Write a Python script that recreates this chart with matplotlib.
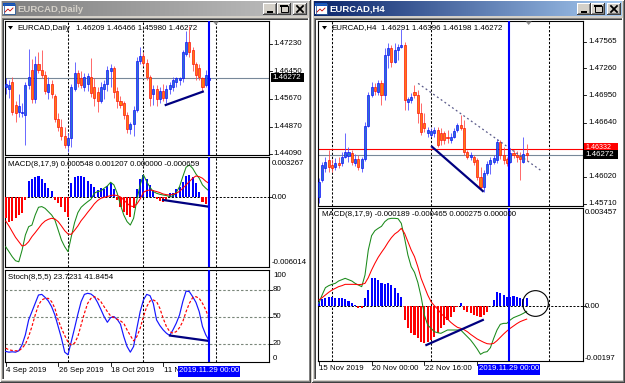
import numpy as np
import matplotlib
matplotlib.use("Agg")
import matplotlib.pyplot as plt
from matplotlib.patches import Rectangle, Polygon
from matplotlib.colors import LinearSegmentedColormap

plt.rcParams['font.family'] = ['Liberation Sans', 'DejaVu Sans']

# ======================= DATA =======================
# ---- EURCAD Daily (left window), bar index 0 = 4 Sep 2019 ----
l_open = [1.4600, 1.4595, 1.4615, 1.4550, 1.4530, 1.4525, 1.4520, 1.4605, 1.4650, 1.4565,
          1.4665, 1.4650, 1.4635, 1.4585, 1.4610, 1.4575, 1.4510, 1.4485, 1.4460, 1.4435,
          1.4455, 1.4595, 1.4640, 1.4625, 1.4600, 1.4610, 1.4630, 1.4600, 1.4585, 1.4560,
          1.4595, 1.4610, 1.4645, 1.4655, 1.4590, 1.4560, 1.4555, 1.4520, 1.4480, 1.4495,
          1.4535, 1.4675, 1.4690, 1.4670, 1.4630, 1.4580, 1.4595, 1.4565, 1.4590, 1.4570,
          1.4595, 1.4600, 1.4615, 1.4620, 1.4625, 1.4695, 1.4730, 1.4705, 1.4665, 1.4655,
          1.4625, 1.4605, 1.46209]
l_high = [1.4625, 1.4620, 1.4630, 1.4560, 1.4580, 1.4555, 1.4615, 1.4710, 1.4680, 1.4690,
          1.4700, 1.4705, 1.4645, 1.4630, 1.4620, 1.4580, 1.4525, 1.4510, 1.4485, 1.4470,
          1.4610, 1.4672, 1.4650, 1.4645, 1.4640, 1.4640, 1.4682, 1.4625, 1.4600, 1.4615,
          1.4620, 1.4660, 1.4665, 1.4660, 1.4600, 1.4575, 1.4560, 1.4530, 1.4500, 1.4545,
          1.4685, 1.4715, 1.4700, 1.4680, 1.4635, 1.4605, 1.4605, 1.4600, 1.4610, 1.4605,
          1.4615, 1.4630, 1.4630, 1.4628, 1.4705, 1.4760, 1.4775, 1.4715, 1.4672, 1.4665,
          1.4628, 1.4650, 1.46466]
l_low = [1.4580, 1.4570, 1.4520, 1.4500, 1.4515, 1.4515, 1.4435, 1.4595, 1.4555, 1.4555,
         1.4640, 1.4625, 1.4580, 1.4565, 1.4570, 1.4500, 1.4475, 1.4450, 1.4425, 1.4415,
         1.4430, 1.4590, 1.4600, 1.4598, 1.4590, 1.4590, 1.4572, 1.4545, 1.4530, 1.4555,
         1.4565, 1.4590, 1.4600, 1.4570, 1.4540, 1.4540, 1.4510, 1.4470, 1.4465, 1.4460,
         1.4530, 1.4665, 1.4660, 1.4620, 1.4545, 1.4550, 1.4545, 1.4555, 1.4560, 1.4555,
         1.4580, 1.4590, 1.4600, 1.4605, 1.4615, 1.4690, 1.4685, 1.4645, 1.4620, 1.4620,
         1.4585, 1.4600, 1.45980]
l_close = [1.4610, 1.4605, 1.4530, 1.4525, 1.4545, 1.4530, 1.4605, 1.4630, 1.4565, 1.4665,
           1.4650, 1.4635, 1.4590, 1.4610, 1.4580, 1.4510, 1.4485, 1.4460, 1.4435, 1.4455,
           1.4600, 1.4640, 1.4612, 1.4605, 1.4630, 1.4632, 1.4582, 1.4570, 1.4560, 1.4600,
           1.4610, 1.4650, 1.4655, 1.4585, 1.4560, 1.4550, 1.4520, 1.4480, 1.4495, 1.4535,
           1.4675, 1.4690, 1.4670, 1.4630, 1.4570, 1.4595, 1.4565, 1.4590, 1.4570, 1.4595,
           1.4605, 1.4620, 1.4625, 1.4625, 1.4700, 1.4730, 1.4700, 1.4665, 1.4635, 1.4630,
           1.4600, 1.4635, 1.46272]

l_macd_hist = [-0.00183, -0.00212, -0.00204, -0.00183, -0.00154, -0.00140, -0.00023, 0.00146, 0.00157, 0.00180,
               0.00186, 0.00157, 0.00122, 0.00079, 0.00058, -0.00023, -0.00052, -0.00081, -0.00125, -0.00169,
               0.00128, 0.00175, 0.00186, 0.00186, 0.00175, 0.00146, 0.00116, 0.00093, 0.00064, 0.00079,
               0.00070, 0.00099, 0.00122, 0.00070, -0.00023, -0.00081, -0.00125, -0.00154, -0.00169, -0.00096,
               0.00070, 0.00157, 0.00195, 0.00157, 0.00108, 0.00064, -0.00017, -0.00029, -0.00038, -0.00023,
               0.00035, 0.00041, 0.00070, 0.00093, 0.00137, 0.00186, 0.00195, 0.00180, 0.00122, 0.00050,
               -0.00038, -0.00058, -0.00066]
l_macd_green = [-0.00431, -0.00474, -0.00518, -0.00553, -0.00562, -0.00460, -0.00329, -0.00256, -0.00242, -0.00154,
                -0.00087, -0.00081, -0.00096, -0.00125, -0.00154, -0.00198, -0.00285, -0.00373, -0.00431, -0.00474,
                -0.00343, -0.00221, -0.00134, -0.00087, -0.00061, -0.00038, -0.00017, 0.00035, 0.00050, 0.00055,
                0.00079, 0.00099, 0.00131, 0.00108, 0.00035, -0.00067, -0.00154, -0.00212, -0.00242, -0.00183,
                -0.00023, 0.00108, 0.00195, 0.00137, 0.00087, 0.00050, 0.00035, 0.00026, 0.00020, 0.00015,
                0.00006, 0.00012, 0.00041, 0.00093, 0.00180, 0.00262, 0.00282, 0.00253, 0.00204, 0.00166,
                0.00108, 0.00079, 0.00055]
l_macd_red = [-0.00207, -0.00250, -0.00300, -0.00349, -0.00387, -0.00425, -0.00416, -0.00387, -0.00343, -0.00308,
              -0.00271, -0.00233, -0.00207, -0.00192, -0.00183, -0.00189, -0.00212, -0.00250, -0.00291, -0.00320,
              -0.00323, -0.00288, -0.00250, -0.00204, -0.00169, -0.00131, -0.00096, -0.00058, -0.00029, -0.00009,
              0.00000, 0.00006, 0.00015, 0.00020, 0.00015, 0.00003, -0.00023, -0.00052, -0.00076, -0.00081,
              -0.00058, -0.00015, 0.00044, 0.00058, 0.00064, 0.00058, 0.00050, 0.00041, 0.00029, 0.00023,
              0.00020, 0.00026, 0.00035, 0.00052, 0.00079, 0.00108, 0.00137, 0.00166, 0.00186, 0.00180,
              0.00166, 0.00140, 0.00121]
l_stoch_main = [11.6, 10.8, 11.2, 10.8, 12.3, 18.9, 30.0, 46.5, 55.7, 64.9,
                74.1, 74.8, 71.5, 67.5, 61.2, 52.0, 39.2, 26.3, 10.8, 7.9,
                22.6, 37.3, 52.8, 66.8, 74.8, 76.0, 75.2, 72.3, 66.0, 58.3,
                50.2, 43.9, 49.1, 50.2, 47.2, 41.7, 28.1, 17.1, 10.8, 17.1,
                37.3, 55.7, 68.6, 74.8, 73.4, 64.9, 46.5, 40.3, 35.5, 31.8,
                29.2, 35.5, 42.8, 52.0, 66.8, 78.5, 77.8, 72.3, 66.0, 55.7,
                39.2, 30.0, 23.7]
l_stoch_sig = [15.2, 13.4, 12.7, 12.3, 12.3, 15.2, 19.6, 28.1, 39.2, 52.0,
               63.1, 68.6, 70.4, 70.4, 66.8, 59.4, 46.5, 37.3, 29.2, 21.9,
               18.9, 20.8, 28.1, 41.0, 53.9, 64.9, 70.4, 72.3, 70.4, 66.8,
               61.2, 55.7, 50.9, 49.1, 47.2, 45.4, 42.8, 35.5, 29.2, 23.3,
               28.1, 37.3, 50.2, 61.2, 67.5, 68.6, 66.8, 59.4, 48.4, 39.2,
               33.6, 31.8, 33.6, 38.0, 44.7, 55.7, 64.9, 71.2, 72.3, 70.4,
               64.9, 57.6, 48.0]
# the last date label is mostly hidden behind the highlighted cursor date
l_dates = ["4 Sep 2019", "26 Sep 2019", "18 Oct 2019", "11 N"]
l_date_idx = [0, 16, 32, 48]
l_sep = [19, 42]
l_blue = 61.9
l_future = 64.1
l_price_ticks = [1.47230, 1.46450, 1.45670, 1.44870, 1.44090]
l_bid = 1.46272
l_trend_price = ([48.8, 60.1], [1.45488, 1.45869])
l_trend_macd = ([48.0, 61.8], [-0.000233, -0.000815])
l_trend_stoch = ([50.1, 61.8], [29.2, 23.3])

# ---- EURCAD H4 (right window), bar index 0 = 15 Nov 2019 08:00 ----
r_open = [1.45791, 1.45982, 1.46115, 1.46211, 1.46154, 1.46127, 1.46180, 1.46173, 1.46249, 1.46257,
          1.46295, 1.46180, 1.46218, 1.46115, 1.46218, 1.46600, 1.46955, 1.47042, 1.46993, 1.47088,
          1.46955, 1.47413, 1.47489, 1.47336, 1.47470, 1.47508, 1.47527, 1.46878, 1.46897, 1.46993,
          1.46955, 1.46745, 1.46631, 1.46516, 1.46497, 1.46524, 1.46554, 1.46516, 1.46524, 1.46478,
          1.46440, 1.46470, 1.46554, 1.46611, 1.46573, 1.46306, 1.46249, 1.46249, 1.46211, 1.46020,
          1.45906, 1.46058, 1.46165, 1.46192, 1.46211, 1.46421, 1.46268, 1.46218, 1.46192, 1.46287,
          1.46268, 1.46257, 1.46192, 1.46291]
r_high = [1.46001, 1.46192, 1.46249, 1.46325, 1.46218, 1.46230, 1.46249, 1.46306, 1.46516, 1.46363,
          1.46325, 1.46279, 1.46268, 1.46249, 1.46650, 1.46993, 1.47107, 1.47096, 1.47126, 1.47126,
          1.47489, 1.47546, 1.47527, 1.47546, 1.47535, 1.47706, 1.47565, 1.46936, 1.46981, 1.47069,
          1.47012, 1.46859, 1.46745, 1.46592, 1.46573, 1.46585, 1.46585, 1.46573, 1.46547, 1.46554,
          1.46516, 1.46573, 1.46638, 1.46726, 1.46669, 1.46325, 1.46306, 1.46268, 1.46230, 1.46135,
          1.46096, 1.46203, 1.46241, 1.46268, 1.46447, 1.46440, 1.46363, 1.46249, 1.46344, 1.46325,
          1.46318, 1.46306, 1.46470, 1.46396]
r_low = [1.45715, 1.45963, 1.46077, 1.46077, 1.46077, 1.46096, 1.46115, 1.46142, 1.46230, 1.46192,
         1.46154, 1.46142, 1.46096, 1.46077, 1.46203, 1.46585, 1.46936, 1.46955, 1.46955, 1.46840,
         1.46897, 1.47260, 1.47279, 1.47317, 1.47355, 1.47489, 1.46783, 1.46783, 1.46859, 1.46917,
         1.46631, 1.46497, 1.46535, 1.46478, 1.46470, 1.46478, 1.46363, 1.46382, 1.46394, 1.46402,
         1.46409, 1.46459, 1.46535, 1.46554, 1.46268, 1.46218, 1.46211, 1.46154, 1.45982, 1.45868,
         1.45848, 1.46039, 1.46051, 1.46165, 1.46173, 1.46218, 1.46165, 1.46142, 1.46173, 1.46230,
         1.46192, 1.45982, 1.46173, 1.46198]
r_close = [1.45963, 1.46154, 1.46192, 1.46135, 1.46115, 1.46180, 1.46154, 1.46249, 1.46306, 1.46306,
           1.46192, 1.46218, 1.46135, 1.46218, 1.46600, 1.46955, 1.47042, 1.47004, 1.47088, 1.46955,
           1.47413, 1.47489, 1.47336, 1.47470, 1.47508, 1.47527, 1.46897, 1.46905, 1.46936, 1.46955,
           1.46745, 1.46535, 1.46573, 1.46554, 1.46547, 1.46554, 1.46382, 1.46440, 1.46440, 1.46459,
           1.46478, 1.46547, 1.46611, 1.46573, 1.46306, 1.46249, 1.46268, 1.46192, 1.46020, 1.45906,
           1.46058, 1.46165, 1.46211, 1.46230, 1.46421, 1.46268, 1.46211, 1.46180, 1.46287, 1.46268,
           1.46249, 1.46218, 1.46279, 1.46272]
r_macd_hist = [0.000154, 0.000236, 0.000296, 0.000331, 0.000331, 0.000296, 0.000296, 0.000272, 0.000248, 0.000177,
               0.000095, 0.000035, -0.000059, -0.000083, 0.000272, 0.000567, 0.000981, 0.000981, 0.000922, 0.000804,
               0.000768, 0.000804, 0.000745, 0.000626, 0.000449, 0.000331, -0.000496, -0.000792, -0.000969, -0.001028,
               -0.001147, -0.001265, -0.001324, -0.001265, -0.001206, -0.001087, -0.000969, -0.000792, -0.000674, -0.000496,
               -0.000378, -0.000201, -0.000024, 0.000095, -0.000142, -0.000201, -0.000260, -0.000319, -0.000343, -0.000378,
               -0.000319, -0.000201, 0.000012, 0.000213, 0.000485, 0.000449, 0.000390, 0.000331, 0.000331, 0.000366,
               0.000331, 0.000272, 0.000248, 0.000275]
r_macd_green = [0.000095, 0.000390, 0.000650, 0.000721, 0.000768, 0.000804, 0.000887, 0.000934, 0.000981, 0.000934,
                0.000887, 0.000804, 0.000745, 0.000686, 0.001099, 0.001986, 0.002494, 0.002671, 0.002754, 0.002825,
                0.002990, 0.003085, 0.003109, 0.003109, 0.003097, 0.002931, 0.002399, 0.001808, 0.001395, 0.001194,
                0.000839, 0.000331, -0.000319, -0.000674, -0.000792, -0.000910, -0.000946, -0.000969, -0.000910, -0.000851,
                -0.000851, -0.000851, -0.000851, -0.000851, -0.000969, -0.001087, -0.001206, -0.001359, -0.001525, -0.001714,
                -0.001643, -0.001619, -0.001478, -0.001147, -0.000851, -0.000650, -0.000615, -0.000615, -0.000496, -0.000414,
                -0.000366, -0.000319, -0.000260, -0.000189]
r_macd_red = [0.000213, 0.000296, 0.000390, 0.000485, 0.000567, 0.000626, 0.000686, 0.000721, 0.000768, 0.000768,
              0.000768, 0.000768, 0.000756, 0.000768, 0.000804, 0.001005, 0.001277, 0.001513, 0.001726, 0.001903,
              0.002069, 0.002258, 0.002423, 0.002553, 0.002636, 0.002754, 0.002577, 0.002281, 0.001986, 0.001749,
              0.001395, 0.000981, 0.000686, 0.000390, 0.000154, 0.000012, -0.000106, -0.000260, -0.000378, -0.000461,
              -0.000579, -0.000674, -0.000756, -0.000792, -0.000839, -0.000910, -0.001005, -0.001087, -0.001170, -0.001229,
              -0.001288, -0.001336, -0.001348, -0.001324, -0.001229, -0.001111, -0.000993, -0.000887, -0.000792, -0.000709,
              -0.000626, -0.000556, -0.000508, -0.000465]
# the fourth date label (k=48) is completely hidden behind the highlighted cursor date
r_dates = ["15 Nov 2019", "20 Nov 00:00", "22 Nov 16:00", ""]
r_date_idx = [0, 16, 32, 48]
r_sep = [4, 34]
r_blue = 57.6
r_future = 69.7
r_shift = 63.6
r_price_ticks = [1.47565, 1.47260, 1.46950, 1.46640, 1.46020, 1.45710]
r_bid = 1.46272
r_ask = 1.46332
r_trend_price = ([34.3, 49.7], [1.46363, 1.45856])
r_trend_dash = ([30.1, 67.4], [1.47088, 1.46089])
r_trend_macd = ([32.6, 49.7], [-0.001383, -0.000496])
r_circle = (65.6, 0.000118)

# ======================= FIGURE =======================
W, H = 625, 383
fig = plt.figure(figsize=(W / 100, H / 100), dpi=100)
fig.patch.set_facecolor('#D4D0C8')
bg = fig.add_axes([0, 0, 1, 1], zorder=0)
bg.set_xlim(0, W); bg.set_ylim(H, 0); bg.axis('off')
top = fig.add_axes([0, 0, 1, 1], zorder=10)
top.set_xlim(0, W); top.set_ylim(H, 0); top.axis('off')

FS = 5.7


def prect(ax, x, y, w, h, c, z=1):
    ax.add_patch(Rectangle((x, y), w, h, fc=c, ec='none', lw=0, zorder=z))


def button(x, y, kind):
    w, h = 14, 12
    prect(bg, x, y, w, h, '#404040', 3)
    prect(bg, x, y, w - 1, h - 1, '#FFFFFF', 3)
    prect(bg, x + 1, y + 1, w - 2, h - 2, '#808080', 3)
    prect(bg, x + 1, y + 1, w - 3, h - 3, '#D4D0C8', 3)
    if kind == 'min':
        prect(bg, x + 4, y + 8, 6, 2, 'black', 4)
    elif kind == 'max':
        bg.add_patch(Rectangle((x + 3.5, y + 2.5), 7, 6, fc='none', ec='black', lw=0.7, zorder=4))
        prect(bg, x + 3, y + 2, 8, 2, 'black', 4)
    else:
        bg.plot([x + 4, x + 10], [y + 3, y + 9], color='black', lw=1.3, zorder=4)
        bg.plot([x + 10, x + 4], [y + 3, y + 9], color='black', lw=1.3, zorder=4)


def window(x0, x1, title, active):
    prect(bg, x0, 0, x1 - x0, H, '#D4D0C8', 1)
    prect(bg, x0, 0, x1 - x0, 1, '#FFFFFF', 1)
    prect(bg, x0, 0, 1, H, '#FFFFFF', 1)
    prect(bg, x1 - 1, 0, 1, H, '#404040', 1)
    prect(bg, x1 - 2, 1, 1, H - 1, '#808080', 1)
    prect(bg, x0, H - 1, x1 - x0, 1, '#404040', 1)
    prect(bg, x0 + 1, H - 2, x1 - x0 - 2, 1, '#808080', 1)
    c0, c1 = ('#0A246A', '#A6CAF0') if active else ('#808080', '#C0C0C0')
    cmap = LinearSegmentedColormap.from_list('tb', [c0, c1])
    bg.imshow(np.linspace(0, 1, 256)[None, :], extent=(x0 + 2, x1 - 3, 16, 1),
              cmap=cmap, aspect='auto', interpolation='bilinear', zorder=2)
    # icon
    prect(bg, x0 + 3, 3, 12, 11, '#FFFFFF', 3)
    prect(bg, x0 + 3, 3, 12, 3, '#1050C0', 3)
    bg.add_patch(Rectangle((x0 + 3.5, 3.5), 11, 10, fc='none', ec='#3060A0', lw=0.6, zorder=3))
    bg.plot([x0 + 5, x0 + 8, x0 + 10, x0 + 13], [12, 9, 11, 8], color='#C00000', lw=0.6, zorder=4)
    tc = 'white' if active else '#D4D0C8'
    bg.text(x0 + 17, 9, title, color=tc, fontsize=6.8, fontweight='bold', va='center', ha='left', zorder=4,
            family=['Liberation Sans', 'DejaVu Sans'])
    re = x1 - 4
    button(re - 14, 3, 'close')
    button(re - 30, 3, 'max')
    button(re - 44, 3, 'min')
    # client area (sunken)
    cx0, cx1, cy0, cy1 = x0 + 2, x1 - 2, 18, H - 3
    prect(bg, cx0, cy0, cx1 - cx0, cy1 - cy0, '#FFFFFF', 1)
    prect(bg, cx0, cy0, cx1 - cx0, 1, '#808080', 2)
    prect(bg, cx0, cy0, 1, cy1 - cy0, '#808080', 2)
    prect(bg, cx0 + 1, cy0 + 1, cx1 - cx0 - 2, 1, '#404040', 2)
    prect(bg, cx0 + 1, cy0 + 1, 1, cy1 - cy0 - 2, '#404040', 2)
    prect(bg, cx1 - 1, cy0, 1, cy1 - cy0, '#FFFFFF', 2)
    prect(bg, cx0, cy1 - 1, cx1 - cx0, 1, '#FFFFFF', 2)


window(0, 311, "EURCAD,Daily", False)
window(312, 625, "EURCAD,H4", True)


def panel(x0, y0, x1, y1, xlim, ylim):
    ax = fig.add_axes([x0 / W, 1 - y1 / H, (x1 - x0) / W, (y1 - y0) / H], zorder=2)
    ax.set_xlim(*xlim); ax.set_ylim(*ylim)
    ax.set_facecolor('white')
    for s in ax.spines.values():
        s.set_color('black'); s.set_linewidth(0.8)
    ax.set_xticks([]); ax.set_yticks([])
    return ax


def to_px(ax, x, y):
    return top.transData.inverted().transform(ax.transData.transform((x, y)))


L_XLIM = (-0.21, 80.28)
R_XLIM = (-0.242, 80.06)
aL1 = panel(5, 21, 269, 155, L_XLIM, (1.44059, 1.47887))
aL2 = panel(5, 157, 269, 267, L_XLIM, (-0.006077, 0.003513))
aL3 = panel(5, 270, 269, 362, L_XLIM, (-0.1, 101.8))
aR1 = panel(318, 21, 583, 206, R_XLIM, (1.45685, 1.47802))
aR2 = panel(318, 208, 583, 361, R_XLIM, (-0.00195, 0.003475))

SEP = dict(color='black', lw=0.75, ls=(0, (2.2, 1.6)), zorder=1)


def candles(ax, o, h, l, c):
    o, h, l, c = map(np.asarray, (o, h, l, c))
    x = np.arange(len(o))
    up = c >= o
    wick = np.where(up, '#5050FF', '#FF5050')
    ax.vlines(x, l, h, colors=list(wick), lw=0.6, zorder=3)
    body_fc = np.where(up, '#2A70D0', '#FF7A10')
    body_ec = np.where(up, '#0000FF', '#FF0000')
    ax.bar(x, c - o, bottom=o, width=0.62, color=list(body_fc), edgecolor=list(body_ec), linewidth=0.45, zorder=4)


def macd(ax, hist, green, red):
    hist = np.asarray(hist)
    x = np.arange(len(hist))
    cols = np.where(hist >= 0, '#0000FF', '#FF0000')
    ax.bar(x, hist, width=0.62, color=list(cols), lw=0, zorder=3)
    ax.plot(x, green, color='#1A8A1A', lw=0.75, zorder=4)
    ax.plot(x, red, color='#FF0000', lw=0.75, zorder=4)
    ax.axhline(0, color='black', lw=0.7, ls=(0, (2.2, 1.6)), zorder=2)


# ---------------- left window ----------------
candles(aL1, l_open, l_high, l_low, l_close)
aL1.axhline(l_bid, color='#778899', lw=0.8, zorder=2)
aL1.plot(*l_trend_price, color='#000080', lw=1.6, zorder=5)
macd(aL2, l_macd_hist, l_macd_green, l_macd_red)
aL2.plot(*l_trend_macd, color='#000080', lw=1.6, zorder=5)
xs = np.arange(len(l_stoch_main))
for lv in (20, 50, 80):
    aL3.axhline(lv, color='#7A867A', lw=0.8, ls=(0, (2.2, 1.8)), zorder=2)
aL3.plot(xs, l_stoch_main, color='#1515FF', lw=0.85, zorder=4)
aL3.plot(xs, l_stoch_sig, color='#FF0000', lw=0.85, ls=(0, (2.4, 1.6)), zorder=4)
aL3.plot(*l_trend_stoch, color='#000080', lw=1.6, zorder=5)
for a in (aL1, aL2, aL3):
    for s in l_sep:
        a.axvline(s, **SEP)
    a.axvline(l_future, **SEP)
    a.axvline(l_blue, color='#0000FF', lw=1.5, zorder=6)

# ---------------- right window ----------------
candles(aR1, r_open, r_high, r_low, r_close)
aR1.axhline(r_bid, color='#778899', lw=0.8, zorder=2)
aR1.axhline(r_ask, color='#FF0000', lw=0.8, zorder=2)
aR1.plot(*r_trend_price, color='#000080', lw=1.6, zorder=5)
aR1.plot(*r_trend_dash, color='#5A5A8A', lw=0.9, ls=(0, (1.5, 2.2)), zorder=5)
macd(aR2, r_macd_hist, r_macd_green, r_macd_red)
aR2.plot(*r_trend_macd, color='#000080', lw=1.6, zorder=5)
aR2.plot(*r_circle, marker='o', ms=18.5, mfc='none', mec='black', mew=0.8, zorder=7, clip_on=False)
for a in (aR1, aR2):
    for s in r_sep:
        a.axvline(s, **SEP)
    a.axvline(r_future, **SEP)
    a.axvline(r_blue, color='#0000FF', lw=1.5, zorder=6)


# ---------------- scale labels ----------------
def scale_label(ax, val, s, xpx, va='center', tick=True):
    x1 = to_px(ax, ax.get_xlim()[1], val)
    y = x1[1]
    if tick:
        top.plot([x1[0], x1[0] + 3], [y, y], color='black', lw=0.6)
    top.text(xpx, y, s, fontsize=FS, va=va, ha='left', color='black')


for v in l_price_ticks:
    scale_label(aL1, v, f"{v:.5f}", 273)
scale_label(aL2, 0.003267, "0.003267", 272, va='top', tick=False)
scale_label(aL2, 0.0, "0.00", 272)
scale_label(aL2, -0.006014, "-0.006014", 272, va='bottom', tick=False)
for v in (100, 80, 50, 20, 0):
    scale_label(aL3, v, str(v), 273, va='top' if v == 100 else ('bottom' if v == 0 else 'center'),
                tick=v not in (100, 0))
for v in r_price_ticks:
    scale_label(aR1, v, f"{v:.5f}", 588)
scale_label(aR2, 0.003457, "0.003457", 585, va='top', tick=False)
scale_label(aR2, 0.0, "0.00", 585)
scale_label(aR2, -0.00197, "-0.00197", 585, va='bottom', tick=False)


def hl_price(ax, val, x0, x1, fc, s, dy=0.0, fs=FS, box=(4.5, 4.5)):
    y = to_px(ax, 0, val)[1]
    prect(top, x0, y - box[0], x1 - x0, box[0] + box[1], fc, 5)
    top.text(x0 + 1.5, y + dy, s, fontsize=fs, color='white', va='center', ha='left', zorder=6)


hl_price(aL1, l_bid, 271, 304, 'black', "1.46272")
# ask label sits just above the bid label (partly tucked behind it in the original)
hl_price(aR1, r_ask, 584, 618, '#FF0000', "1.46332", dy=-2.3, fs=5.1, box=(6.0, 3.0))
hl_price(aR1, r_bid, 584, 618, 'black', "1.46272")


# ---------------- header texts ----------------
def header(x, y, name, xv, vals):
    top.add_patch(Polygon([[x, y - 2], [x + 5, y - 2], [x + 2.5, y + 1.5]], closed=True, fc='black', ec='none'))
    top.text(x + 9, y, name, fontsize=FS, va='center', ha='left')
    top.text(xv, y, vals, fontsize=FS, va='center', ha='left')


header(8, 28, "EURCAD,Daily", 76.5, "1.46209 1.46466 1.45980 1.46272")
header(322, 28, "EURCAD,H4", 381, "1.46291 1.46396 1.46198 1.46272")
top.text(8, 165, "MACD(8,17,9) 0.000548 0.001207 0.000000 -0.000659", fontsize=FS, va='center', ha='left')
top.text(8, 277.5, "Stoch(8,5,5) 23.7231 41.8454", fontsize=FS, va='center', ha='left')
top.text(322, 215, "MACD(8,17,9) -0.000189 -0.000465 0.000275 0.000000", fontsize=FS, va='center', ha='left')

# chart shift markers
for ax, xi in ((aL1, l_future), (aR1, r_shift)):
    px, py = to_px(ax, xi, ax.get_ylim()[1])
    top.add_patch(Polygon([[px - 3, py + 0.5], [px + 3, py + 0.5], [px, py + 4]], closed=True,
                          fc='#8C8C8C', ec='none', zorder=6))


# ---------------- date axis ----------------
def date_axis(ax, idxs, labels, ypx, blue_x):
    for i, s in zip(idxs, labels):
        px, py = to_px(ax, i, ax.get_ylim()[0])
        top.plot([px, px], [py, py + 4], color='black', lw=0.6)
        if s:
            top.text(px + 0.5, ypx, s, fontsize=FS, va='center', ha='left')
    bx = to_px(ax, blue_x, 0)[0]
    prect(top, bx - 31, ypx - 5, 62, 10.5, '#0000FF', 5)
    top.text(bx, ypx, "2019.11.29 00:00", fontsize=FS, color='white', va='center', ha='center', zorder=6)


date_axis(aL3, l_date_idx, l_dates, 371, l_blue)
date_axis(aR2, r_date_idx, r_dates, 369, r_blue)

fig.savefig("out.png", dpi=100, facecolor=fig.get_facecolor())
